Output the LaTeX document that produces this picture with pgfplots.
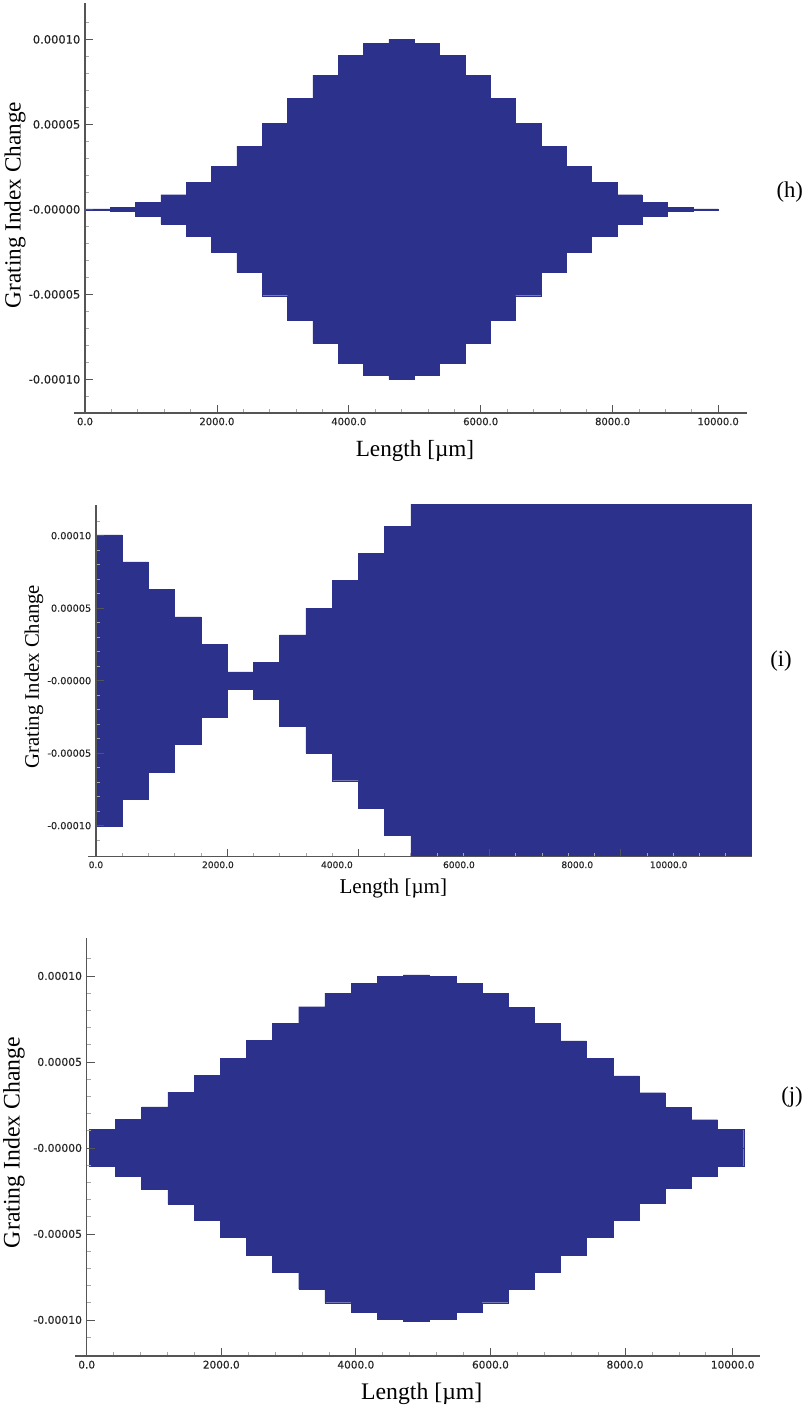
\documentclass[border=0pt]{standalone}
\usepackage{fontspec}
\setmainfont{Liberation Serif}
\newfontfamily\tickfont[FakeBold=0.5]{DejaVu Sans}
\usepackage{pgfplots}
\usepackage{pgfplotstable}
\pgfplotsset{compat=1.18}
\definecolor{barblue}{RGB}{44,49,139}
\definecolor{axgray}{RGB}{85,85,85}

% (h) apodized grating, segment edges and index-change amplitude
\pgfplotstableread{
x a
0 0.0000003
384 0.0000013
768 0.0000041
1152 0.0000086
1536 0.0000159
1920 0.0000253
2304 0.0000372
2688 0.0000508
3072 0.0000654
3456 0.0000789
3840 0.0000904
4224 0.0000975
4608 0.0001000
4992 0.0000975
5376 0.0000904
5760 0.0000789
6144 0.0000654
6528 0.0000508
6912 0.0000372
7296 0.0000253
7680 0.0000159
8064 0.0000086
8448 0.0000041
8832 0.0000013
9216 0.0000003
9600 0
}\datah

% (i)
\pgfplotstableread{
x a
0 0.0001005
400 0.0000820
800 0.0000630
1200 0.0000440
1600 0.0000250
2000 0.0000060
2400 0.0000127
2800 0.0000316
3200 0.0000500
3600 0.0000690
4000 0.0000880
4400 0.0001066
4800 0.0001250
5200 0.0001440
5600 0.0001630
6000 0.0001820
6400 0.0002000
6800 0.0002190
7200 0.0002380
7600 0.0002570
8000 0.0002760
8400 0.0002950
8800 0.0003130
9200 0.0003320
9600 0.0003510
10000 0
}\datai

% (j)
\pgfplotstableread{
x a
39 0.0000109
428 0.0000166
817 0.0000238
1206 0.0000325
1595 0.0000420
1984 0.0000521
2373 0.0000624
2762 0.0000725
3151 0.0000821
3540 0.0000900
3929 0.0000958
4318 0.0000996
4707 0.0001006
5096 0.0000996
5485 0.0000958
5874 0.0000900
6263 0.0000819
6652 0.0000725
7041 0.0000623
7430 0.0000521
7819 0.0000419
8208 0.0000321
8597 0.0000236
8986 0.0000164
9375 0.0000107
9764 0
}\dataj

\pgfplotsset{
  gratstyle/.style={
    scale only axis, axis on top, clip=true,
    axis x line*=bottom, axis y line*=middle,
    scaled ticks=false,
    hide obscured x ticks=false, hide obscured y ticks=false,
    axis line style={axgray, line width=1pt},
    tick style={axgray, line width=0.6pt},
    tick align=inside,
    major tick length=6pt, minor tick length=3pt,
    every minor tick/.append style={gray!70, line width=0.5pt},
    ytick={-0.0001,-0.00005,0,0.00005,0.0001},
    yticklabels={-0.00010,-0.00005,-0.00000,0.00005,0.00010},
    minor ytick={-0.00011,-0.00009,-0.00008,-0.00007,-0.00006,-0.00004,-0.00003,-0.00002,-0.00001,0.00001,0.00002,0.00003,0.00004,0.00006,0.00007,0.00008,0.00009,0.00011},
    minor xtick={400,800,1200,1600,2400,2800,3200,3600,4400,4800,5200,5600,6400,6800,7200,7600,8400,8800,9200},
    tick label style={text=black!85},
  },
  area/.style={const plot, fill=barblue, draw=barblue, line width=0.3pt},
}

\begin{document}
\begin{tikzpicture}
\path[use as bounding box] (0,0) rectangle (603.75pt,-1054.5pt);

% ---------------- (h) ----------------
\begin{axis}[gratstyle,
  at={(55.5pt,-309.75pt)}, anchor=south west,
  width=504.5pt, height=307.5pt,
  xmin=-167, xmax=10033, ymin=-0.0001198, ymax=0.0001214,
  xtick={0,2000,4000,6000,8000,9600},
  xticklabels={0.0,2000.0,4000.0,6000.0,8000.0,10000.0},
  xticklabel style={font=\tickfont\fontsize{7.5}{9}\selectfont},
  yticklabel style={font=\tickfont\fontsize{8.6}{10}\selectfont},
]
\addplot[area] table[x=x,y=a]{\datah} \closedcycle;
\addplot[area] table[x=x,y expr=-\thisrow{a}]{\datah} \closedcycle;
\end{axis}

% ---------------- (i) ----------------
\begin{axis}[gratstyle,
  at={(66.2pt,-642.5pt)}, anchor=south west,
  width=497.7pt, height=263.8pt,
  xmin=-117, xmax=10000, ymin=-0.0001214, ymax=0.0001212,
  xtick={0,2000,4000,6000,8000},
  xticklabels={,,,,},
  minor xtick={400,800,1200,1600,2400,2800,3200,3600,4400,4800,5200,5600,6400,6800,7200,7600,8400,8800,9200,9600},
  extra x ticks={0,1860,3674,5534,7338,8731},
  extra x tick labels={0.0,2000.0,4000.0,6000.0,8000.0,10000.0},
  extra x tick style={major tick length=0pt},
  xticklabel style={font=\tickfont\fontsize{6.8}{8}\selectfont},
  yticklabel style={font=\tickfont\fontsize{7.3}{9}\selectfont},
]
\addplot[area] table[x=x,y=a]{\datai} \closedcycle;
\addplot[area] table[x=x,y expr=-\thisrow{a}]{\datai} \closedcycle;
\end{axis}

% ---------------- (j) ----------------
\begin{axis}[gratstyle,
  at={(56.5pt,-1017pt)}, anchor=south west,
  width=513.2pt, height=313.3pt,
  xmin=-169, xmax=10000, ymin=-0.000121, ymax=0.0001219,
  xtick={0,2000,4000,6000,8000,9600},
  xticklabels={0.0,2000.0,4000.0,6000.0,8000.0,10000.0},
  xticklabel style={font=\tickfont\fontsize{7.9}{9}\selectfont},
  yticklabel style={font=\tickfont\fontsize{8.1}{10}\selectfont},
]
\addplot[area] table[x=x,y=a]{\dataj} \closedcycle;
\addplot[area] table[x=x,y expr=-\thisrow{a}]{\dataj} \closedcycle;
\end{axis}

% axis titles and panel labels
\node[rotate=90, font=\fontsize{17.4}{20}\selectfont] at (11.25pt,-153.75pt) {Grating Index Change};
\node[anchor=base, font=\fontsize{17.4}{20}\selectfont] at (311.25pt,-342pt) {Length [µm]};
\node[font=\fontsize{17}{20}\selectfont] at (592.3pt,-144.4pt) {(h)};

\node[rotate=90, font=\fontsize{15.5}{18}\selectfont] at (25.5pt,-507.5pt) {Grating Index Change};
\node[anchor=base, font=\fontsize{15.8}{18}\selectfont] at (295pt,-670pt) {Length [µm]};
\node[font=\fontsize{17}{20}\selectfont] at (585.75pt,-495.6pt) {(i)};

\node[rotate=90, font=\fontsize{17.8}{20}\selectfont] at (10.5pt,-856.9pt) {Grating Index Change};
\node[anchor=base, font=\fontsize{17.8}{20}\selectfont] at (316.3pt,-1049.5pt) {Length [µm]};
\node[font=\fontsize{17}{20}\selectfont] at (594pt,-822.5pt) {(j)};
\end{tikzpicture}
\end{document}
